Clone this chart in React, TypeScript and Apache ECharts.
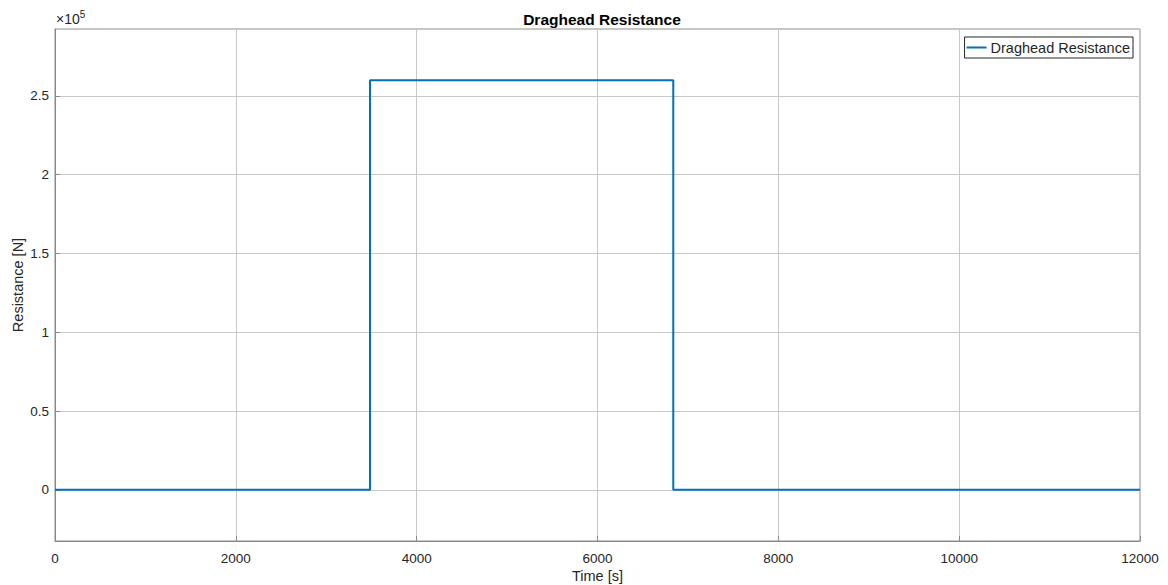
import React, { useEffect, useRef } from "react";
import * as echarts from "echarts";

const chartTitle = "Draghead Resistance";
const seriesName = "Draghead Resistance";
const xAxisName = "Time [s]";
const yAxisName = "Resistance [N]";
const times = [0, 3484, 3484, 6838, 6838, 12000];
const resistance = [0, 0, 260000, 260000, 0, 0];
const xMin = 0;
const xMax = 12000;
const xStep = 2000;
const yMin = -32500;
const yMax = 292500;

const FONT = "Arial, 'Liberation Sans', Helvetica, sans-serif";
const TXT = "#262626";

export default function App() {
  const ref = useRef<HTMLDivElement>(null);
  useEffect(() => {
    if (!ref.current) return;
    const chart = echarts.init(ref.current, undefined, { renderer: "svg" });
    const data = times.map((t, i) => [t, resistance[i]]);
    chart.setOption({
      animation: false,
      backgroundColor: "#ffffff",
      textStyle: { fontFamily: FONT, color: TXT },
      title: {
        text: chartTitle,
        left: 597,
        textAlign: "center",
        top: 6,
        textStyle: { fontSize: 15.5, fontWeight: "bold", color: "#000", fontFamily: FONT },
      },
      grid: {
        left: 55,
        right: 28,
        top: 29,
        bottom: 44,
        show: true,
        borderColor: "#8a8a8a",
        borderWidth: 1,
        outerBoundsMode: "none",
        containLabel: false,
      },
      legend: {
        right: 35,
        top: 37,
        orient: "vertical",
        data: [{ name: seriesName, icon: "path://M0,0 L1,0 L1,0.1 L0,0.1 Z" }],
        itemWidth: 24,
        itemHeight: 2,
        itemGap: 0,
        padding: [3, 3, 3, 2],
        borderColor: "#262626",
        borderWidth: 1,
        backgroundColor: "#fff",
        textStyle: { fontSize: 14.5, color: TXT, fontFamily: FONT, padding: [0, 0, 0, -3] },
      },
      xAxis: {
        type: "value",
        min: xMin,
        max: xMax,
        interval: xStep,
        name: xAxisName,
        nameLocation: "middle",
        nameGap: 27,
        nameMoveOverlap: false,
        nameTextStyle: { fontSize: 14.5, color: TXT, fontFamily: FONT },
        axisLine: { show: true, onZero: false, lineStyle: { color: "#8a8a8a" } },
        axisTick: { show: true, inside: true, length: 5, lineStyle: { color: "#8a8a8a" } },
        axisLabel: {
          fontSize: 13.5,
          color: TXT,
          fontFamily: FONT,
          margin: 10,
          formatter: (v: number) => String(v),
        },
        splitLine: { show: true, lineStyle: { color: "#c8c8c8", width: 1 } },
      },
      yAxis: {
        type: "value",
        min: yMin,
        max: yMax,
        splitNumber: 6,
        name: yAxisName,
        nameLocation: "middle",
        nameGap: 30,
        nameMoveOverlap: false,
        nameTextStyle: { fontSize: 14.5, color: TXT, fontFamily: FONT },
        axisLine: { show: true, onZero: false, lineStyle: { color: "#8a8a8a" } },
        axisTick: { show: true, inside: true, length: 5, lineStyle: { color: "#8a8a8a" } },
        axisLabel: {
          fontSize: 13.5,
          color: TXT,
          fontFamily: FONT,
          margin: 6,
          showMinLabel: false,
          showMaxLabel: false,
          formatter: (v: number) => {
            if (Math.abs(v % 50000) > 1e-6) return "";
            return String(v / 100000);
          },
        },
        splitLine: { show: true, lineStyle: { color: "#c8c8c8", width: 1 } },
      },
      graphic: [
        {
          type: "text",
          left: 56,
          top: 9,
          style: {
            text: "×10{s|5}",
            fontSize: 14,
            fontFamily: FONT,
            fill: TXT,
            rich: { s: { fontSize: 10, verticalAlign: "top", fill: TXT, fontFamily: FONT, padding: [0, 0, 9, 0] } },
          },
        },
      ],
      series: [
        {
          name: seriesName,
          type: "line",
          data,
          showSymbol: false,
          symbol: "none",
          color: "#0072BD",
          lineStyle: { color: "#0072BD", width: 2 },
        },
      ],
    });
    return () => chart.dispose();
  }, []);
  return (
    <div
      ref={ref}
      style={{ position: "fixed", left: 0, top: 0, width: 1168, height: 585 }}
    />
  );
}
